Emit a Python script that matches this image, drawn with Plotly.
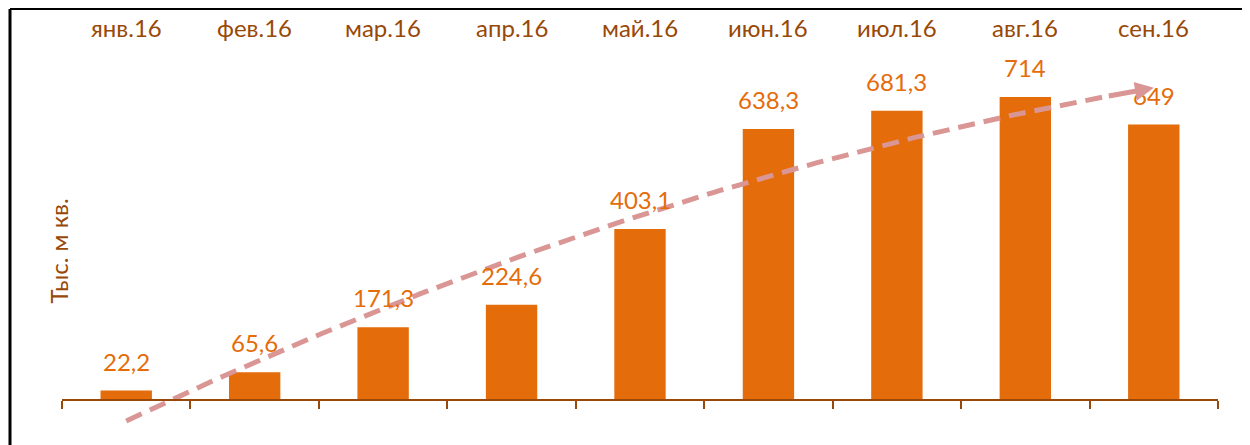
import numpy as np
import plotly.graph_objects as go

categories = ["янв.16", "фев.16", "мар.16", "апр.16", "май.16", "июн.16", "июл.16", "авг.16", "сен.16"]
values = [22.2, 65.6, 171.3, 224.6, 403.1, 638.3, 681.3, 714, 649]
y_title = "Тыс. м кв."

BAR = "#E46C0A"
BROWN = "#984807"
TREND = "#DA9694"
FONT = "Lato"
FS = 24

x_idx = np.arange(len(categories))
labels = [f"{v:g}".replace(".", ",") for v in values]

# polynomial (order 2) trend line, as in the original spreadsheet chart
coef = np.polyfit(x_idx, values, 2)
xt = np.linspace(0, len(categories) - 1, 200)
yt = np.polyval(coef, xt)

# page is offset by the default 8px body margin
OX, OY = 8, 8
PW, PH = 1250, 445
W, H = PW - OX, PH - OY
# plot area in page pixels
PL, PR, PT, PB = 62, 1218, 10, 445
BASE = 400
ml, mr, mt, mb = PL - OX, PW - PR, PT - OY, PH - PB
plot_w = PR - PL
plot_h = PB - PT
px_per_unit = 0.4244
ymin = -(PB - BASE) / px_per_unit
ymax = ymin + plot_h / px_per_unit


def px(xp):
    return (xp - PL) / plot_w


def py(yp):
    return (PB - yp) / plot_h


fig = go.Figure()
fig.add_trace(go.Bar(x=x_idx, y=values, width=0.4, marker=dict(color=BAR, line=dict(width=0)),
                     hoverinfo="skip"))
fig.add_trace(go.Scatter(x=xt[:-8], y=yt[:-8], mode="lines",
                         line=dict(color=TREND, width=5, dash="17px,9px"), hoverinfo="skip"))

ann = []
for i, (c, v, t) in enumerate(zip(categories, values, labels)):
    ann.append(dict(x=i, y=py(27), xref="x", yref="paper", text=c, showarrow=False,
                    font=dict(family=FONT, size=FS, color=BROWN), yanchor="middle"))
    ann.append(dict(x=i, y=v, xref="x", yref="y", text=t, showarrow=False, yanchor="bottom",
                    yshift=13, font=dict(family=FONT, size=FS, color=BAR)))
ann.append(dict(x=px(42), y=py(251), xref="paper", yref="paper",
                text=y_title, textangle=-90, showarrow=False,
                font=dict(family=FONT, size=FS, color=BROWN)))
# arrow head at the end of the trend line
ann.append(dict(x=xt[-1], y=yt[-1], xref="x", yref="y", ax=xt[-10], ay=yt[-10], axref="x", ayref="y",
                text="", showarrow=True, arrowhead=2, arrowwidth=5, arrowsize=0.75,
                arrowcolor=TREND, standoff=0))

shapes = [
    dict(type="line", xref="paper", yref="paper",
         x0=px(10), x1=px(PW + 5), y0=py(9), y1=py(9), line=dict(color="black", width=2)),
    dict(type="line", xref="paper", yref="paper",
         x0=px(10), x1=px(10), y0=py(9), y1=py(PH + 5), line=dict(color="black", width=3)),
]

fig.update_layout(
    width=W, height=H,
    margin=dict(t=mt, b=mb, l=ml, r=mr, pad=0),
    paper_bgcolor="white", plot_bgcolor="white",
    showlegend=False,
    annotations=ann, shapes=shapes,
    xaxis=dict(range=[-0.5, len(categories) - 0.5], tickmode="array",
               tickvals=np.arange(len(categories) + 1) - 0.5, showticklabels=False,
               ticks="outside", ticklen=8, tickwidth=2, tickcolor=BROWN,
               showline=True, linecolor=BROWN, linewidth=2, showgrid=False, zeroline=False,
               anchor="free", position=(0 - ymin) / (ymax - ymin)),
    yaxis=dict(range=[ymin, ymax], visible=False, showgrid=False, zeroline=False),
)

fig.write_html("out.html")
